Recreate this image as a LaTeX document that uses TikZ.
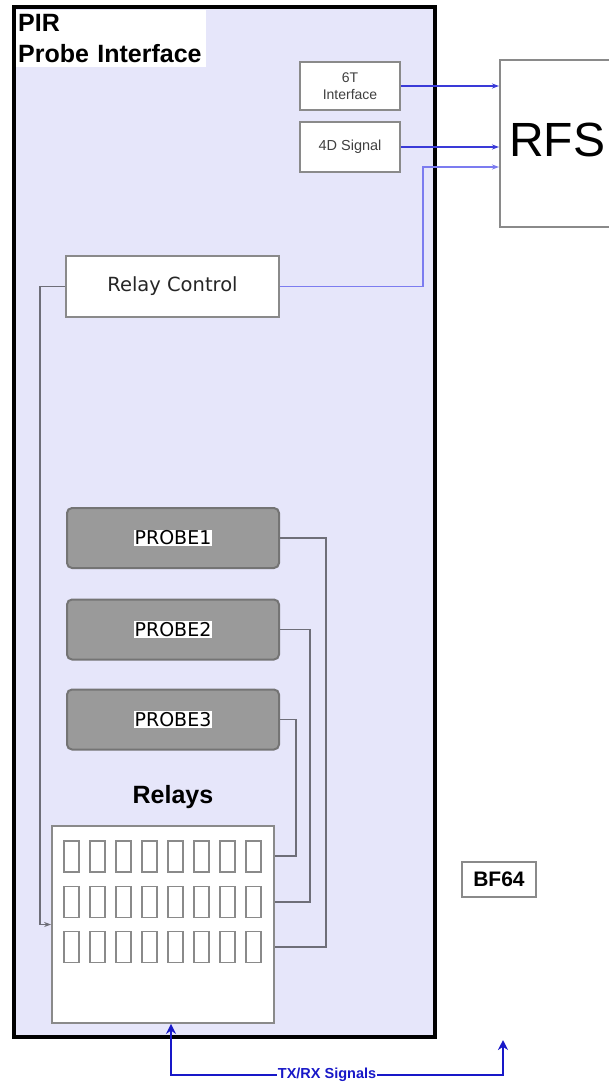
\documentclass[tikz,border=0pt]{standalone}
\usepackage{fontspec}
\setmainfont{Liberation Sans}
\newfontfamily\verd{DejaVu Sans}
\usetikzlibrary{arrows.meta,calc}
\definecolor{lav}{HTML}{E6E6FA}
\definecolor{boxgray}{HTML}{8A8A8A}
\definecolor{probefill}{HTML}{9A9A9A}
\definecolor{probeedge}{HTML}{747474}
\definecolor{linegray}{HTML}{6E6E78}
\definecolor{sigblue}{HTML}{3A3AD8}
\definecolor{lightblue}{HTML}{7C7CF0}
\definecolor{txblue}{HTML}{1818C8}
\tikzset{
  whitebox/.style={draw=boxgray, line width=1.8pt, fill=white, inner sep=0pt},
  probebox/.style={draw=probeedge, line width=2pt, fill=probefill, rounded corners=5pt, inner sep=0pt,
    minimum width=212pt, minimum height=60pt},
  probelabel/.style={fill=white, inner xsep=1pt, inner ysep=1pt, font=\verd\fontsize{19}{21}\selectfont},
  relaycell/.style={draw=boxgray, line width=1.9pt},
  sigline/.style={draw=sigblue, line width=1.5pt, -{Stealth[length=7pt,width=5pt]}},
  grayline/.style={draw=linegray, line width=1.8pt},
  txline/.style={draw=txblue, line width=2.8pt, {Stealth[length=10pt,width=10pt]}-{Stealth[length=10pt,width=10pt]}}
}
\begin{document}
\begin{tikzpicture}[x=1pt,y=-1pt]
\useasboundingbox (0,0) rectangle (609,1082);
\fill[white] (0,0) rectangle (609,1082);
% main PIR box
\node[draw=black, line width=3.8pt, fill=lav, minimum width=421pt, minimum height=1030pt, inner sep=0pt] (pir) at (224.5,522) {};
% title
\node[anchor=north west, fill=white, inner xsep=2pt, inner ysep=4pt, align=left,
      font=\bfseries\fontsize{25}{31}\selectfont, text width=186pt] (title) at (16,10) {PIR\\Probe Interface};
% small interface boxes
\node[whitebox, minimum width=100pt, minimum height=48pt, align=center,
      font=\fontsize{14}{17}\selectfont, text=black!75] (t6) at (350,86) {6T\\Interface};
\node[whitebox, minimum width=100pt, minimum height=50pt,
      font=\fontsize{14.5}{16}\selectfont, text=black!75] (d4) at (350,147) {4D Signal};
% RFS
\node[draw=boxgray, line width=1.8pt, fill=white, minimum width=150pt, minimum height=167pt, inner sep=0pt,
      anchor=north west] (rfs) at (499,59) {};
\node[anchor=west, inner sep=0pt, font=\fontsize{48}{52}\selectfont] (rfstext) at (509,140) {RFS};
% relay control
\node[whitebox, minimum width=213pt, minimum height=61pt, font=\verd\fontsize{19.5}{21}\selectfont,
      text=black!85] (rc) at (172.5,286.5) {Relay Control};
% probes
\node[probebox] (p1) at (173,538) {};
\node[probelabel] at (p1) {PROBE1};
\node[probebox] (p2) at (173,629.5) {};
\node[probelabel] at (p2) {PROBE2};
\node[probebox] (p3) at (173,719.5) {};
\node[probelabel] at (p3) {PROBE3};
% relays label
\node[font=\bfseries\fontsize{25}{28}\selectfont] (rlabel) at (173,797) {Relays};
% relays box
\node[whitebox, minimum width=222pt, minimum height=197pt] (relays) at (163,924.5) {};
\foreach \r/\yc in {1/856.5,2/902,3/947}{
  \foreach \i in {0,...,7}{
    \draw[relaycell] ({64+26*\i},{\yc-15.5}) rectangle ({79+26*\i},{\yc+15.5});
  }
}
% BF64
\node[whitebox, minimum width=74pt, minimum height=35pt, font=\bfseries\fontsize{21}{23}\selectfont] (bf) at (499,879.5) {BF64};
% signal lines to RFS
\draw[sigline] (t6.east) -- (t6.east -| rfs.west);
\draw[sigline] (d4.east) -- (d4.east -| rfs.west);
\coordinate (rcup) at (423,167);
\draw[sigline, draw=lightblue] (rc.east) -| (rcup) -- (rcup -| rfs.west);
% relay control to relays
\draw[grayline, -{Stealth[length=7pt,width=5pt]}] (rc.west) -- ++(-25,0) |- (relays.west);
% probes to relays
\coordinate (rr1) at (relays.east |- 0,856);
\coordinate (rr2) at (relays.east |- 0,902);
\coordinate (rr3) at (relays.east |- 0,947);
\draw[grayline] (p1.east) -- ++(46,0) |- (rr3);
\draw[grayline] (p2.east) -- ++(30,0) |- (rr2);
\draw[grayline] (p3.east) -- ++(16,0) |- (rr1);
% TX/RX
\coordinate (txa) at ([xshift=8pt]relays.south);
\coordinate (txb) at (503,1040);
\draw[txline] (txa) -- (txa |- 0,1075) -- node[pos=0.47, fill=white, inner sep=1pt, text=txblue,
   font=\bfseries\fontsize{14.5}{16}\selectfont] (txlabel) {TX/RX Signals} (txb |- 0,1075) -- (txb);
\end{tikzpicture}
\end{document}
